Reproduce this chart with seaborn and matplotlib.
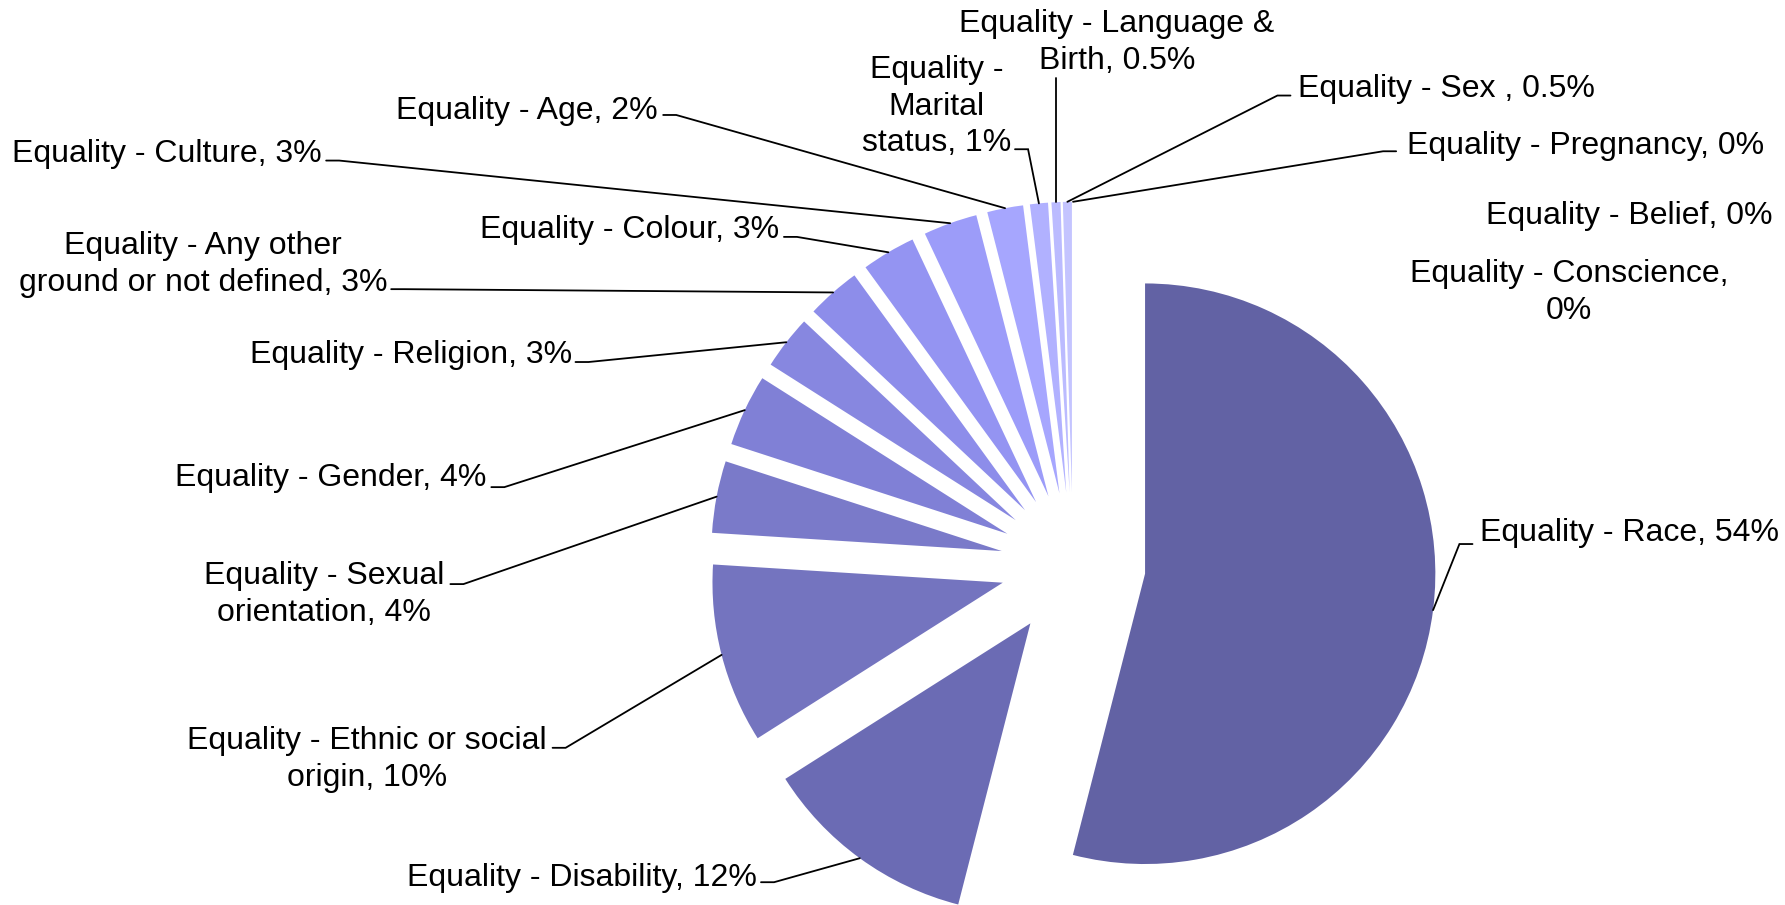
import matplotlib
matplotlib.use("Agg")
import matplotlib.pyplot as plt
import seaborn as sns
import numpy as np

# data
categories = ['Race', 'Disability', 'Ethnic or social origin', 'Sexual orientation',
              'Gender', 'Religion', 'Any other ground or not defined', 'Colour',
              'Culture', 'Age', 'Marital status', 'Language & Birth', 'Sex ',
              'Pregnancy', 'Belief', 'Conscience']
shares = [54, 12, 10, 4, 4, 3, 3, 3, 3, 2, 1, 0.5, 0.5, 0, 0, 0]
pct_labels = ['54%', '12%', '10%', '4%', '4%', '3%', '3%', '3%', '3%', '2%', '1%',
              '0.5%', '0.5%', '0%', '0%', '0%']

# label text as wrapped on the chart
label_text = [
    'Equality - Race, 54%',
    'Equality - Disability, 12%',
    'Equality - Ethnic or social\norigin, 10%',
    'Equality - Sexual\norientation, 4%',
    'Equality - Gender, 4%',
    'Equality - Religion, 3%',
    'Equality - Any other\nground or not defined, 3%',
    'Equality - Colour, 3%',
    'Equality - Culture, 3%',
    'Equality - Age, 2%',
    'Equality -\nMarital\nstatus, 1%',
    'Equality - Language &\nBirth, 0.5%',
    'Equality - Sex , 0.5%',
    'Equality - Pregnancy, 0%',
    'Equality - Belief, 0%',
    'Equality - Conscience,\n0%',
]

colors = ['#6262A4', '#6B6BB4', '#7474BF', '#7A7AC9', '#8080D6', '#8787E0',
          '#8D8DEA', '#9494F2', '#9C9CF9', '#A6A6FE', '#B1B1FF', '#BBBBFF',
          '#C4C4FF', '#CCCCFF', '#D4D4FF', '#DCDCFF']

# layout: text x, text y, alignment, leader elbow (x, y), tick direction
text_pos = [(1.402, 0.122, 'left'), (-1.089, -1.067, 'right'), (-2.432, -0.659, 'center'),
            (-2.579, -0.092, 'center'), (-2.022, 0.310, 'right'), (-1.724, 0.733, 'right'),
            (-2.997, 1.047, 'center'), (-1.014, 1.165, 'right'), (-2.590, 1.428, 'right'),
            (-1.430, 1.573, 'right'), (-0.471, 1.590, 'center'), (0.151, 1.812, 'center'),
            (0.774, 1.651, 'left'), (1.151, 1.455, 'left'), (1.421, 1.212, 'left'),
            (1.708, 0.949, 'center')]
elbows = [(1.331, 0.071, 1), (-1.030, -1.094, -1), (-1.748, -0.631, -1), (-2.100, -0.067, -1),
          (-1.959, 0.267, -1), (-1.669, 0.698, -1), (-2.304, 0.949, -1), (-0.951, 1.129, -1),
          (-2.528, 1.392, -1), (-1.367, 1.549, -1), (-0.155, 1.431, -1), (None, 1.678, 0),
          (0.704, 1.616, 1), (1.068, 1.424, 1), None, None]
text_shift = -0.012

sns.set_theme(style='white')
plt.rcParams['font.family'] = ['Liberation Sans', 'DejaVu Sans']

fig = plt.figure(figsize=(17.85, 9.05), dpi=100)
ax = fig.add_axes([0, 0, 1, 1])

wedges, _ = ax.pie(shares, colors=colors, explode=[0.25] * len(shares),
                   startangle=90, counterclock=False, radius=1,
                   wedgeprops=dict(linewidth=0))

for i, w in enumerate(wedges):
    tx, ty, ha = text_pos[i]
    ax.text(tx, ty + text_shift, label_text[i], ha=ha, va='center', multialignment='center',
            fontsize=23, color='black', linespacing=1.3)
    if elbows[i] is None:
        continue
    ex, ey, tick = elbows[i]
    mid = np.deg2rad((w.theta1 + w.theta2) / 2)
    sx = w.center[0] + w.r * np.cos(mid)
    sy = w.center[1] + w.r * np.sin(mid)
    if ex is None:
        ex = sx
    xs = [sx, ex, ex + 0.045 * tick]
    ys = [sy, ey, ey]
    ax.plot(xs, ys, color='black', lw=1.3, solid_joinstyle='miter')

ax.set_xlim(-3.6965, 2.4525)
ax.set_ylim(-1.1725, 1.9451)
ax.set_aspect('equal')
ax.axis('off')

fig.savefig('out.png', dpi=100, facecolor='white')
